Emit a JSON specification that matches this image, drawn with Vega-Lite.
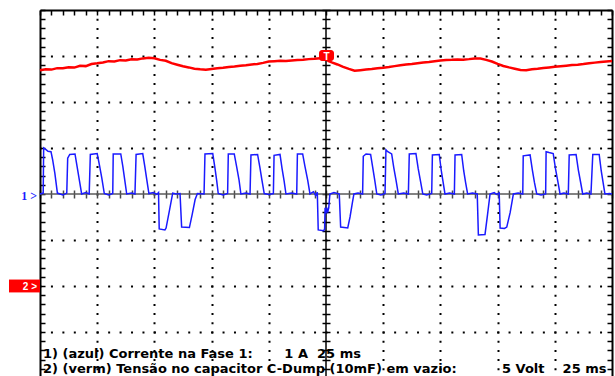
{
  "$schema": "https://vega.github.io/schema/vega-lite/v6.json",
  "width": 572,
  "height": 366,
  "autosize": {"type": "none"},
  "padding": {"left": 40, "top": 10, "right": 3, "bottom": 0},
  "background": "white",
  "config": {
    "view": {"stroke": null},
    "axis": {"labels": false, "title": null, "grid": false, "domain": false, "ticks": false}
  },
  "data": {"values": [{}]},
  "datasets": {
    "ch1": [
      {"t": -125, "i": 0}, {"t": -123.6, "i": 0.02}, {"t": -123.4, "i": 1.0}, {"t": -122.5, "i": 0.97}, {"t": -121.5, "i": 0.93}, {"t": -120.2, "i": 0.92}, {"t": -119.5, "i": 0.75}, {"t": -118.5, "i": 0.45}, {"t": -117.4, "i": 0.02}, {"t": -115, "i": -0.02}, {"t": -113.3, "i": 0.02},
      {"t": -112.9, "i": 0.78}, {"t": -112, "i": 0.86}, {"t": -109.7, "i": 0.87}, {"t": -108.8, "i": 0.6}, {"t": -107.8, "i": 0.3}, {"t": -106.8, "i": 0}, {"t": -105, "i": 0.03}, {"t": -103.5, "i": 0},
      {"t": -103.0, "i": 0.86}, {"t": -100.0, "i": 0.88}, {"t": -99, "i": 0.62}, {"t": -98, "i": 0.35}, {"t": -96.9, "i": 0.01}, {"t": -95, "i": -0.02}, {"t": -93.2, "i": 0.01},
      {"t": -93.0, "i": 0.87}, {"t": -89.7, "i": 0.87}, {"t": -88.8, "i": 0.6}, {"t": -88, "i": 0.32}, {"t": -87.1, "i": 0}, {"t": -85, "i": 0.02}, {"t": -83.5, "i": 0},
      {"t": -83.0, "i": 0.86}, {"t": -80.1, "i": 0.88}, {"t": -79.2, "i": 0.6}, {"t": -78.3, "i": 0.3}, {"t": -77.4, "i": 0.01}, {"t": -75.5, "i": 0.03}, {"t": -74, "i": -0.01}, {"t": -73.2, "i": 0.03},
      {"t": -72.9, "i": -0.76}, {"t": -70.4, "i": -0.78}, {"t": -69.9, "i": -0.74}, {"t": -68.5, "i": -0.38}, {"t": -67.0, "i": 0.02}, {"t": -65.5, "i": 0}, {"t": -63.8, "i": 0.01},
      {"t": -63.1, "i": -0.72}, {"t": -59.7, "i": -0.73}, {"t": -58.5, "i": -0.45}, {"t": -57.2, "i": -0.12}, {"t": -56.2, "i": 0.01}, {"t": -53.3, "i": 0},
      {"t": -52.9, "i": 0.87}, {"t": -49.5, "i": 0.88}, {"t": -48.5, "i": 0.55}, {"t": -47.8, "i": 0.3}, {"t": -47.1, "i": 0.01}, {"t": -45, "i": -0.02}, {"t": -43.0, "i": 0.01},
      {"t": -42.7, "i": 0.87}, {"t": -40.1, "i": 0.87}, {"t": -39, "i": 0.58}, {"t": -38, "i": 0.3}, {"t": -37.2, "i": 0}, {"t": -35, "i": 0.02}, {"t": -33.2, "i": 0},
      {"t": -32.8, "i": 0.85}, {"t": -29.9, "i": 0.86}, {"t": -28.9, "i": 0.58}, {"t": -28, "i": 0.3}, {"t": -27.0, "i": 0.01}, {"t": -25, "i": -0.01}, {"t": -23.0, "i": 0.01},
      {"t": -22.7, "i": 0.84}, {"t": -20.1, "i": 0.86}, {"t": -19.2, "i": 0.55}, {"t": -18.3, "i": 0.28}, {"t": -17.5, "i": 0}, {"t": -15, "i": 0.02}, {"t": -12.8, "i": 0},
      {"t": -12.5, "i": 0.87}, {"t": -10.2, "i": 0.87}, {"t": -9.2, "i": 0.6}, {"t": -8, "i": 0.3}, {"t": -7.0, "i": 0}, {"t": -5.5, "i": 0.05}, {"t": -4.5, "i": -0.03}, {"t": -3.8, "i": 0.04},
      {"t": -3.4, "i": -0.78}, {"t": -1.0, "i": -0.8}, {"t": -0.6, "i": -0.76}, {"t": -0.4, "i": -0.3}, {"t": 0.0, "i": -0.42}, {"t": 0.4, "i": -0.32}, {"t": 0.8, "i": -0.38}, {"t": 1.2, "i": -0.3}, {"t": 1.7, "i": 0}, {"t": 3.5, "i": 0.03}, {"t": 5.8, "i": 0},
      {"t": 6.4, "i": -0.72}, {"t": 9.5, "i": -0.74}, {"t": 10.5, "i": -0.5}, {"t": 11.5, "i": -0.2}, {"t": 12.2, "i": 0}, {"t": 14, "i": 0.02}, {"t": 16.0, "i": 0},
      {"t": 16.3, "i": 0.82}, {"t": 17.5, "i": 0.87}, {"t": 19.5, "i": 0.86}, {"t": 20.5, "i": 0.55}, {"t": 21.3, "i": 0.3}, {"t": 22.2, "i": 0}, {"t": 24, "i": -0.02}, {"t": 25.8, "i": 0.01},
      {"t": 26.2, "i": 0.96}, {"t": 27, "i": 0.92}, {"t": 28.7, "i": 0.87}, {"t": 29.6, "i": 0.58}, {"t": 30.6, "i": 0.3}, {"t": 31.6, "i": 0}, {"t": 34, "i": 0.02}, {"t": 36.0, "i": 0},
      {"t": 36.4, "i": 0.87}, {"t": 39.3, "i": 0.88}, {"t": 40.3, "i": 0.55}, {"t": 41.3, "i": 0.28}, {"t": 42.3, "i": 0}, {"t": 44, "i": -0.02}, {"t": 46.2, "i": 0.01},
      {"t": 46.5, "i": 0.85}, {"t": 49.5, "i": 0.86}, {"t": 50.4, "i": 0.5}, {"t": 51.2, "i": 0.25}, {"t": 52.0, "i": 0}, {"t": 54, "i": 0.02}, {"t": 56.1, "i": 0},
      {"t": 56.4, "i": 0.85}, {"t": 59.3, "i": 0.86}, {"t": 60.2, "i": 0.5}, {"t": 61, "i": 0.25}, {"t": 61.9, "i": 0}, {"t": 64, "i": 0.02}, {"t": 66.1, "i": 0},
      {"t": 66.6, "i": -0.89}, {"t": 69.5, "i": -0.88}, {"t": 70.6, "i": -0.45}, {"t": 71.7, "i": 0}, {"t": 73.5, "i": 0.03}, {"t": 74.5, "i": -0.01}, {"t": 75.7, "i": 0.02},
      {"t": 76.1, "i": -0.74}, {"t": 78, "i": -0.75}, {"t": 79.0, "i": -0.72}, {"t": 80.5, "i": -0.4}, {"t": 81.9, "i": 0}, {"t": 84, "i": 0.02}, {"t": 86.0, "i": 0},
      {"t": 86.2, "i": 0.83}, {"t": 89.2, "i": 0.85}, {"t": 90.2, "i": 0.52}, {"t": 91.1, "i": 0.25}, {"t": 92.1, "i": 0}, {"t": 94, "i": -0.02}, {"t": 96.0, "i": 0},
      {"t": 96.2, "i": 0.92}, {"t": 97.5, "i": 0.9}, {"t": 99.3, "i": 0.88}, {"t": 100.3, "i": 0.55}, {"t": 101.3, "i": 0.28}, {"t": 102.3, "i": 0}, {"t": 104, "i": 0.02}, {"t": 105.9, "i": 0},
      {"t": 106.3, "i": 0.85}, {"t": 109.3, "i": 0.86}, {"t": 110.3, "i": 0.52}, {"t": 111.3, "i": 0.25}, {"t": 112.2, "i": 0}, {"t": 114, "i": 0.02}, {"t": 115.8, "i": 0},
      {"t": 116.6, "i": 0.86}, {"t": 119.4, "i": 0.86}, {"t": 120.3, "i": 0.5}, {"t": 121.1, "i": 0.25}, {"t": 121.9, "i": 0}, {"t": 124, "i": 0.01}, {"t": 125, "i": 0}
    ],
    "ch2": [
      {"t": -125, "v": 23.45}, {"t": -122.5, "v": 23.55}, {"t": -120, "v": 23.52}, {"t": -117.5, "v": 23.68}, {"t": -115, "v": 23.66}, {"t": -112.5, "v": 23.78}, {"t": -110, "v": 23.74}, {"t": -107.5, "v": 23.93}, {"t": -105, "v": 23.9}, {"t": -102.5, "v": 24.12},
      {"t": -100, "v": 24.2}, {"t": -97.5, "v": 24.3}, {"t": -95, "v": 24.44}, {"t": -92.5, "v": 24.4}, {"t": -90, "v": 24.55}, {"t": -87.5, "v": 24.52}, {"t": -85, "v": 24.64}, {"t": -82.5, "v": 24.62}, {"t": -80, "v": 24.74}, {"t": -77.5, "v": 24.8},
      {"t": -75, "v": 24.76}, {"t": -72.5, "v": 24.58}, {"t": -70, "v": 24.48}, {"t": -67.5, "v": 24.22}, {"t": -65, "v": 24.05}, {"t": -62.5, "v": 23.88}, {"t": -60, "v": 23.76}, {"t": -57.5, "v": 23.62}, {"t": -55, "v": 23.55}, {"t": -52.5, "v": 23.5},
      {"t": -50, "v": 23.58}, {"t": -47.5, "v": 23.66}, {"t": -45, "v": 23.72}, {"t": -42.5, "v": 23.8}, {"t": -40, "v": 23.86}, {"t": -37.5, "v": 23.95}, {"t": -35, "v": 24.0}, {"t": -32.5, "v": 24.08}, {"t": -30, "v": 24.14}, {"t": -27.5, "v": 24.25},
      {"t": -25, "v": 24.4}, {"t": -22.5, "v": 24.43}, {"t": -20, "v": 24.47}, {"t": -17.5, "v": 24.45}, {"t": -15, "v": 24.52}, {"t": -12.5, "v": 24.56}, {"t": -10, "v": 24.6}, {"t": -7.5, "v": 24.66}, {"t": -5, "v": 24.7}, {"t": -2.5, "v": 24.76},
      {"t": 0, "v": 24.8}, {"t": 1, "v": 24.45}, {"t": 2.5, "v": 24.3}, {"t": 5, "v": 24.08}, {"t": 7.5, "v": 23.82}, {"t": 10, "v": 23.6}, {"t": 12.5, "v": 23.4}, {"t": 15, "v": 23.46}, {"t": 17.5, "v": 23.52}, {"t": 20, "v": 23.58},
      {"t": 22.5, "v": 23.66}, {"t": 25, "v": 23.72}, {"t": 27.5, "v": 23.8}, {"t": 30, "v": 23.9}, {"t": 32.5, "v": 24.0}, {"t": 35, "v": 24.08}, {"t": 37.5, "v": 24.14}, {"t": 40, "v": 24.22}, {"t": 42.5, "v": 24.3}, {"t": 45, "v": 24.36},
      {"t": 47.5, "v": 24.44}, {"t": 50, "v": 24.5}, {"t": 52.5, "v": 24.56}, {"t": 55, "v": 24.58}, {"t": 57.5, "v": 24.62}, {"t": 60, "v": 24.6}, {"t": 62.5, "v": 24.66}, {"t": 65, "v": 24.74}, {"t": 67.5, "v": 24.72}, {"t": 70, "v": 24.58},
      {"t": 72.5, "v": 24.4}, {"t": 75, "v": 24.15}, {"t": 77.5, "v": 23.92}, {"t": 80, "v": 23.76}, {"t": 82.5, "v": 23.62}, {"t": 85, "v": 23.48}, {"t": 87.5, "v": 23.46}, {"t": 90, "v": 23.56}, {"t": 92.5, "v": 23.62}, {"t": 95, "v": 23.7},
      {"t": 97.5, "v": 23.76}, {"t": 100, "v": 23.82}, {"t": 102.5, "v": 23.88}, {"t": 105, "v": 23.95}, {"t": 107.5, "v": 24.02}, {"t": 110, "v": 24.06}, {"t": 112.5, "v": 24.12}, {"t": 115, "v": 24.2}, {"t": 117.5, "v": 24.28}, {"t": 120, "v": 24.34},
      {"t": 122.5, "v": 24.4}, {"t": 125, "v": 24.46}
    ]
  },
  "layer": [
    {
      "mark": {"type": "rule", "color": "#5a5a5a", "strokeWidth": 1.5},
      "encoding": {
        "y": {"datum": 0, "type": "quantitative", "scale": {"domain": [-3.957, 4], "nice": false, "zero": false},
          "axis": {"orient": "left", "offset": -572, "values": [-3.8,-3.6,-3.4,-3.2,-3,-2.8,-2.6,-2.4,-2.2,-2,-1.8,-1.6,-1.4,-1.2,-1,-0.8,-0.6,-0.4,-0.2,0,0.2,0.4,0.6,0.8,1,1.2,1.4,1.6,1.8,2,2.2,2.4,2.6,2.8,3,3.2,3.4,3.6,3.8,4],
            "domain": true, "domainColor": "#000000", "domainWidth": 2, "ticks": true, "tickSize": 5, "tickWidth": 1.5, "tickColor": "#000000", "labels": false, "title": null, "grid": false}}
      }
    },
    {
      "mark": {"type": "rule", "color": "#000000", "strokeWidth": 1.5},
      "encoding": {
        "x": {"datum": 0, "type": "quantitative", "scale": {"domain": [-125, 125], "nice": false, "zero": false},
          "axis": {"orient": "bottom", "offset": -186, "values": [-125,-120,-115,-110,-105,-100,-95,-90,-85,-80,-75,-70,-65,-60,-55,-50,-45,-40,-35,-30,-25,-20,-15,-10,-5,0,5,10,15,20,25,30,35,40,45,50,55,60,65,70,75,80,85,90,95,100,105,110,115,120,125],
            "domain": false, "ticks": true, "tickSize": 8, "tickWidth": 1.5, "tickColor": "#4a4a4a", "labels": false, "title": null, "grid": false}}
      }
    },
    {
      "data": {"name": "ch1"},
      "mark": {"type": "line", "color": "#1a1aff", "strokeWidth": 1.5},
      "encoding": {
        "x": {"field": "t", "type": "quantitative", "scale": {"domain": [-125, 125], "nice": false, "zero": false},
          "axis": {"orient": "bottom", "offset": -366, "values": [-125,-120,-115,-110,-105,-100,-95,-90,-85,-80,-75,-70,-65,-60,-55,-50,-45,-40,-35,-30,-25,-20,-15,-10,-5,0,5,10,15,20,25,30,35,40,45,50,55,60,65,70,75,80,85,90,95,100,105,110,115,120,125],
            "domain": true, "domainColor": "#000000", "domainWidth": 2, "ticks": true, "tickSize": 5, "tickWidth": 1.5, "tickColor": "#000000", "labels": false, "title": null,
            "grid": true, "gridColor": "#000000", "gridWidth": 2, "gridDash": [2, 7.2], "gridDashOffset": 1,
            "gridOpacity": {"condition": {"test": "datum.value % 25 === 0 && datum.value !== 0 && abs(datum.value) < 120", "value": 1}, "value": 0}}},
        "y": {"field": "i", "type": "quantitative", "scale": {"domain": [-3.957, 4], "nice": false, "zero": false},
          "axis": {"orient": "right", "offset": -572, "values": [-3.8,-3.6,-3.4,-3.2,-3,-2.8,-2.6,-2.4,-2.2,-2,-1.8,-1.6,-1.4,-1.2,-1,-0.8,-0.6,-0.4,-0.2,0,0.2,0.4,0.6,0.8,1,1.2,1.4,1.6,1.8,2,2.2,2.4,2.6,2.8,3,3.2,3.4,3.6,3.8,4],
            "domain": true, "domainColor": "#000000", "domainWidth": 2, "ticks": true, "tickSize": 5, "tickWidth": 1.5, "tickColor": "#000000", "labels": false, "title": null,
            "grid": true, "gridColor": "#000000", "gridWidth": 2, "gridDash": [2, 9.44], "gridDashOffset": 1,
            "gridOpacity": {"condition": {"test": "abs(datum.value - round(datum.value)) < 0.01 && abs(datum.value) > 0.5 && abs(datum.value) < 3.9", "value": 1}, "value": 0}}}
      }
    },
    {
      "data": {"name": "ch2"},
      "mark": {"type": "line", "color": "#ff0000", "strokeWidth": 2.5},
      "encoding": {
        "x": {"field": "t", "type": "quantitative", "scale": {"domain": [-125, 125], "nice": false, "zero": false}, "axis": null},
        "y": {"field": "v", "type": "quantitative", "scale": {"domain": [-9.785, 30], "nice": false, "zero": false}, "axis": null}
      }
    },
    {
      "mark": {"type": "text", "text": "1 >", "color": "#1a1aff", "font": "Liberation Serif", "fontWeight": "bold", "fontSize": 12, "align": "right", "baseline": "alphabetic", "dx": -3, "dy": 6},
      "encoding": {
        "x": {"datum": -125, "type": "quantitative", "scale": {"domain": [-125, 125], "nice": false, "zero": false}, "axis": null},
        "y": {"datum": 0, "type": "quantitative", "scale": {"domain": [-3.957, 4], "nice": false, "zero": false},
          "axis": {"orient": "left", "offset": -290, "values": [-3.8,-3.6,-3.4,-3.2,-3,-2.8,-2.6,-2.4,-2.2,-2,-1.8,-1.6,-1.4,-1.2,-1,-0.8,-0.6,-0.4,-0.2,0,0.2,0.4,0.6,0.8,1,1.2,1.4,1.6,1.8,2,2.2,2.4,2.6,2.8,3,3.2,3.4,3.6,3.8,4],
            "domain": false, "ticks": true, "tickSize": 8, "tickWidth": 1.5, "tickColor": "#000000", "labels": false, "title": null, "grid": false}}
      }
    },
    {
      "mark": {"type": "rect", "color": "#ff0000"},
      "encoding": {
        "x": {"datum": -138.55, "type": "quantitative", "scale": {"domain": [-125, 125], "nice": false, "zero": false}, "axis": null},
        "x2": {"datum": -125},
        "y": {"datum": -0.7, "type": "quantitative", "scale": {"domain": [-9.785, 30], "nice": false, "zero": false}, "axis": null},
        "y2": {"datum": 0.7}
      }
    },
    {
      "mark": {"type": "text", "text": "2 >", "color": "#ffffff", "font": "Liberation Sans", "fontWeight": "bold", "fontSize": 10, "align": "right", "baseline": "alphabetic", "dx": -3, "dy": 4},
      "encoding": {
        "x": {"datum": -125, "type": "quantitative", "scale": {"domain": [-125, 125], "nice": false, "zero": false}, "axis": null},
        "y": {"datum": 0, "type": "quantitative", "scale": {"domain": [-9.785, 30], "nice": false, "zero": false}, "axis": null}
      }
    },
    {
      "mark": {"type": "rect", "color": "#ff0000", "cornerRadius": 3},
      "encoding": {
        "x": {"datum": -3.06, "type": "quantitative", "scale": {"domain": [-125, 125], "nice": false, "zero": false}, "axis": null},
        "x2": {"datum": 3.5},
        "y": {"datum": 24.46, "type": "quantitative", "scale": {"domain": [-9.785, 30], "nice": false, "zero": false}, "axis": null},
        "y2": {"datum": 25.65}
      }
    },
    {
      "mark": {"type": "text", "text": "T", "color": "#ffffff", "font": "Liberation Sans", "fontWeight": "bold", "fontSize": 10, "align": "center", "baseline": "middle", "dy": 1},
      "encoding": {
        "x": {"datum": 0.2, "type": "quantitative", "scale": {"domain": [-125, 125], "nice": false, "zero": false}, "axis": null},
        "y": {"datum": 25.05, "type": "quantitative", "scale": {"domain": [-9.785, 30], "nice": false, "zero": false}, "axis": null}
      }
    },
    {
      "mark": {"type": "text", "text": "1) (azul) Corrente na Fase 1:\u00a0\u00a0\u00a0\u00a0\u00a0\u00a0\u00a01 A\u00a0\u00a025 ms", "color": "#000000", "font": "DejaVu Sans", "fontWeight": "bold", "fontSize": 13, "align": "left", "baseline": "alphabetic", "dx": 3},
      "encoding": {
        "x": {"datum": -125, "type": "quantitative", "scale": {"domain": [-125, 125], "nice": false, "zero": false}, "axis": null},
        "y": {"datum": -3.565, "type": "quantitative", "scale": {"domain": [-3.957, 4], "nice": false, "zero": false}, "axis": null}
      }
    },
    {
      "mark": {"type": "text", "text": "2) (verm) Tensão no capacitor C-Dump (10mF) em vazio:\u00a0\u00a0\u00a0\u00a0\u00a0\u00a0\u00a0\u00a0\u00a0\u00a05 Volt\u00a0\u00a0\u00a0\u00a025 ms", "color": "#000000", "font": "DejaVu Sans", "fontWeight": "bold", "fontSize": 13, "align": "left", "baseline": "alphabetic", "dx": 3},
      "encoding": {
        "x": {"datum": -125, "type": "quantitative", "scale": {"domain": [-125, 125], "nice": false, "zero": false}, "axis": null},
        "y": {"datum": -3.9, "type": "quantitative", "scale": {"domain": [-3.957, 4], "nice": false, "zero": false}, "axis": null}
      }
    }
  ],
  "resolve": {"scale": {"y": "independent"}, "axis": {"x": "independent", "y": "independent"}}
}
